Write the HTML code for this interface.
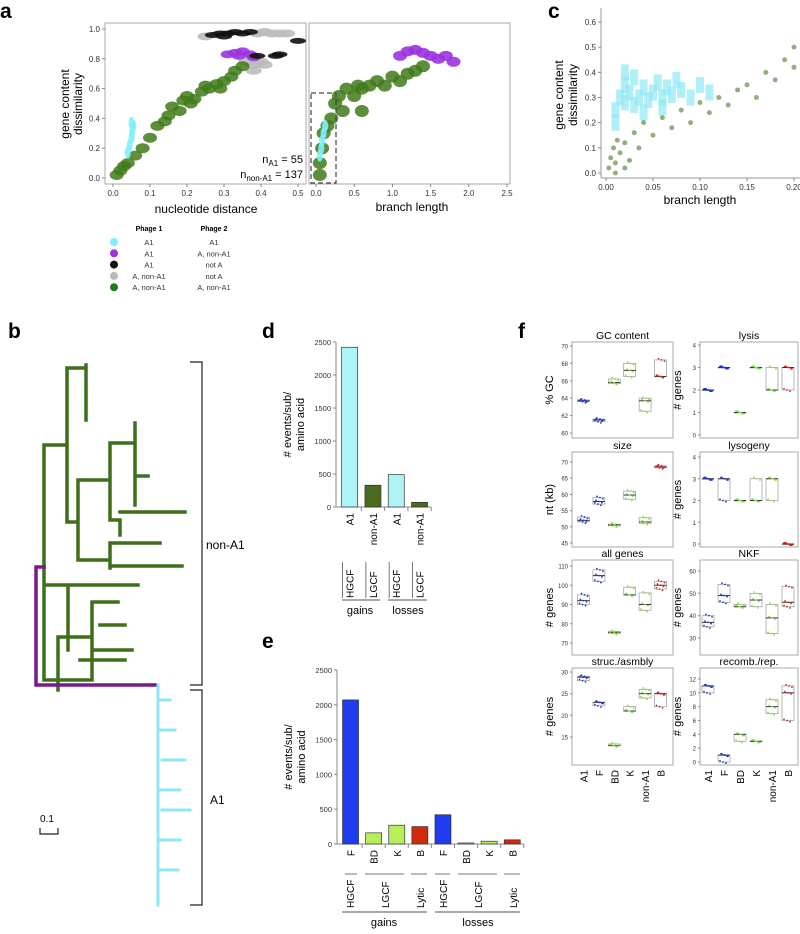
<!DOCTYPE html>
<html><head><meta charset="utf-8"><style>
body{margin:0;background:#fff}
svg{display:block;font-family:"Liberation Sans",sans-serif}
</style></head><body>
<svg id="fig" width="800" height="934" viewBox="0 0 800 934" xmlns="http://www.w3.org/2000/svg">
<g font-weight="bold" font-size="21">
<text x="0" y="18">a</text><text x="548" y="18">c</text><text x="8" y="338">b</text>
<text x="262" y="338">d</text><text x="262" y="648">e</text><text x="518" y="338">f</text>
</g>
</svg>
<script>
// ---------- data ----------
const aLeftGreen=[[0.01,0.02],[0.02,0.05],[0.03,0.08],[0.04,0.1],[0.06,0.15],[0.08,0.2],[0.1,0.27],[0.12,0.35],[0.15,0.42],[0.16,0.48],[0.19,0.52],[0.2,0.55],[0.22,0.53],[0.24,0.58],[0.26,0.6],[0.28,0.63],[0.3,0.65],[0.32,0.68],[0.33,0.72],[0.35,0.75],[0.18,0.45],[0.25,0.62],[0.29,0.6],[0.14,0.38],[0.21,0.5]];
const aLeftCyan=[[0.04,0.17],[0.045,0.22],[0.05,0.27],[0.052,0.31],[0.055,0.35],[0.05,0.37]];
const aLeftPurple=[[0.31,0.83],[0.33,0.84],[0.35,0.85],[0.37,0.83],[0.38,0.81],[0.34,0.82]];
const aLeftBlack=[[0.27,0.96],[0.29,0.97],[0.31,0.97],[0.33,0.98],[0.35,0.97],[0.37,0.98],[0.3,0.95],[0.39,0.82],[0.44,0.82],[0.45,0.83],[0.5,0.92]];
const aLeftGray=[[0.39,0.97],[0.41,0.98],[0.43,0.97],[0.45,0.97],[0.47,0.97],[0.25,0.95],[0.36,0.78],[0.38,0.76],[0.4,0.78],[0.38,0.72],[0.41,0.76]];
const aRightGreen=[[0.05,0.02],[0.05,0.1],[0.08,0.2],[0.1,0.3],[0.2,0.4],[0.25,0.5],[0.3,0.55],[0.4,0.6],[0.5,0.55],[0.55,0.62],[0.6,0.45],[0.7,0.62],[0.8,0.65],[0.9,0.62],[1.0,0.68],[1.1,0.65],[1.2,0.7],[1.3,0.72],[1.4,0.75],[0.35,0.45],[0.6,0.6],[0.15,0.35]];
const aRightCyan=[[0.05,0.15],[0.07,0.2],[0.08,0.25],[0.1,0.3],[0.12,0.35]];
const aRightPurple=[[1.1,0.82],[1.2,0.85],[1.3,0.86],[1.4,0.84],[1.5,0.82],[1.6,0.8],[1.7,0.82],[1.8,0.78]];
const cCyan=[[0.01,0.25],[0.015,0.3],[0.02,0.35],[0.02,0.28],[0.025,0.32],[0.03,0.38],[0.03,0.27],[0.035,0.3],[0.04,0.34],[0.045,0.29],[0.05,0.32],[0.055,0.36],[0.06,0.3],[0.065,0.34],[0.07,0.31],[0.075,0.37],[0.08,0.33],[0.09,0.3],[0.1,0.35],[0.11,0.32],[0.02,0.4],[0.04,0.24],[0.01,0.2],[0.06,0.26]];
const cGreen=[[0.003,0.02],[0.005,0.06],[0.008,0.1],[0.01,0.04],[0.012,0.13],[0.015,0.08],[0.02,0.12],[0.025,0.05],[0.03,0.16],[0.035,0.1],[0.04,0.2],[0.05,0.15],[0.06,0.22],[0.07,0.18],[0.08,0.25],[0.09,0.2],[0.1,0.28],[0.11,0.24],[0.12,0.3],[0.13,0.27],[0.14,0.33],[0.15,0.35],[0.16,0.3],[0.17,0.4],[0.18,0.37],[0.19,0.45],[0.2,0.5],[0.2,0.42],[0.01,0.0],[0.02,0.02]];
const dCats=["A1","non-A1","A1","non-A1"];
const dVals=[2420,330,490,70];
const dColors=["#aef4f6","#4a6a1e","#aef4f6","#4a6a1e"];
const eCats=["F","BD","K","B","F","BD","K","B"];
const eVals=[2070,160,270,250,420,15,40,60];
const eColors=["#1f3cf0","#b8ee5a","#b8ee5a","#d02a10","#1f3cf0","#b8ee5a","#b8ee5a","#d02a10"];
const fCats=["A1","F","BD","K","non-A1","B"];
const fCatColors=["#2233dd","#2233dd","#88dd44","#88dd44","#88dd44","#dd2222"];
const fGC=[[63.6,63.7,63.8],[61.3,61.5,61.6],[65.7,65.8,66.2],[66.5,67.2,68],[62.5,63.7,64],[66.5,66.5,68.4]];
const fSize=[[51.5,52,53],[57,57.8,59],[50.3,50.6,50.8],[58.5,59.8,61],[51,51.5,52.8],[68.2,68.5,68.8]];
const fAll=[[90,92,95],[102,105,108],[75,75.5,76],[95,95,99],[87,90,96],[98,100,102]];
const fStruc=[[28,28.8,29],[22.2,23,23],[13,13,13.4],[21,21,22],[24,25,26],[22,25,25]];
const fLysis=[[2,2,2],[3,3,3],[1,1,1],[3,3,3],[2,2,3],[2,3,3]];
const fLyso=[[3,3,3],[2,3,3],[2,2,2],[2,2,3],[2,3,3],[0,0,0]];
const fNKF=[[35,37,40],[46,49,54],[44,44,45],[44,47,50],[32,39,45],[44,46,53]];
const fRec=[[10,11,11],[0,1,1],[3,4,4],[3,3,3],[7,8,9],[6,10,11]];
const gcTicks=[60,62,64,66,68,70], sizeTicks=[45,50,55,60,65,70], allTicks=[70,80,90,100,110], strucTicks=[15,20,25,30];
const lysTicks=[0,1,2,3,4], nkfTicks=[30,40,50,60], recTicks=[0,2,4,6,8,10,12];

// ---------- helpers ----------
const svg=document.getElementById('fig');
const NS="http://www.w3.org/2000/svg";
function mk(tag,attrs,parent,name){const e=document.createElementNS(NS,tag);for(const k in attrs)e.setAttribute(k,attrs[k]);(parent||svg).appendChild(e);


return e;}
function txt(x,y,s,opts,parent,name){const t=mk('text',Object.assign({x:x,y:y},opts||{}),parent,name||'label');t.textContent=s;return t;}
function lin(d0,d1,r0,r1){return v=>r0+(v-d0)/(d1-d0)*(r1-r0);}

// ---------- panel a ----------
function scatterPanel(box,xs,ys,xt,yt,series,name){
  const g=mk('g',{},svg,name);
  mk('rect',{x:box[0],y:box[1],width:box[2]-box[0],height:box[3]-box[1],fill:'none',stroke:'#aaa'},g,'plot-frame');
  xt.forEach(v=>{mk('line',{x1:xs(v),x2:xs(v),y1:box[3],y2:box[3]+3,stroke:'#888'},g,'x-tick');txt(xs(v),box[3]+12,v.toFixed(xt.dec),{'font-size':8,'text-anchor':'middle',fill:'#333'},g,'x-tick-label');});
  if(yt)yt.forEach(v=>{mk('line',{x1:box[0]-3,x2:box[0],y1:ys(v),y2:ys(v),stroke:'#888'},g,'y-tick');txt(box[0]-5,ys(v)+3,v.toFixed(1),{'font-size':8,'text-anchor':'end',fill:'#333'},g,'y-tick-label');});
  series.forEach(s=>s.pts.forEach(p=>mk('ellipse',{cx:xs(p[0]),cy:ys(p[1]),rx:s.rx,ry:s.ry,fill:s.c,opacity:s.o},g,s.n)));
  return g;
}
const axl=[0,0.1,0.2,0.3,0.4,0.5];axl.dec=1;
const axr=[0,0.5,1,1.5,2,2.5];axr.dec=1;
const yA=[0,0.2,0.4,0.6,0.8,1];
const ayS=lin(0,1,178,29);
scatterPanel([105,23,306,184],lin(0,0.5,113,298),ayS,axl,yA,[
 {pts:aLeftGray,c:'#bbb',rx:8,ry:4,o:0.9,n:'point-gray'},
 {pts:aLeftGreen,c:'#3f7a1a',rx:7,ry:5,o:0.85,n:'point-green'},
 {pts:aLeftCyan,c:'#7ff0f8',rx:3,ry:6,o:0.9,n:'point-cyan'},
 {pts:aLeftPurple,c:'#9a33e0',rx:7,ry:4,o:0.9,n:'point-purple'},
 {pts:aLeftBlack,c:'#111',rx:8,ry:3,o:0.9,n:'point-black'}],'panel-a-left');
scatterPanel([309,23,510,184],lin(0,2.5,316,507),ayS,axr,null,[
 {pts:aRightGreen,c:'#3f7a1a',rx:7,ry:6,o:0.85,n:'point-green'},
 {pts:aRightCyan,c:'#7ff0f8',rx:3,ry:6,o:0.9,n:'point-cyan'},
 {pts:aRightPurple,c:'#9a33e0',rx:7,ry:5,o:0.9,n:'point-purple'}],'panel-a-right');
mk('rect',{x:311,y:93,width:25,height:90,fill:'none',stroke:'#444','stroke-dasharray':'5,3','stroke-width':1.2},svg,'zoom-region-box');
txt(303,163,'n',{'font-size':11,'text-anchor':'end'},svg,'n-a1').innerHTML='n<tspan font-size="8" dy="3">A1</tspan><tspan dy="-3"> = 55</tspan>';
txt(303,178,'n',{'font-size':11,'text-anchor':'end'},svg,'n-nona1').innerHTML='n<tspan font-size="8" dy="3">non-A1</tspan><tspan dy="-3"> = 137</tspan>';
txt(206,213,'nucleotide distance',{'font-size':12,'text-anchor':'middle'},svg,'x-axis-title');
txt(412,211,'branch length',{'font-size':12,'text-anchor':'middle'},svg,'x-axis-title');
txt(0,0,'gene content',{'font-size':12,'text-anchor':'middle',transform:'translate(69,104) rotate(-90)'},svg,'y-axis-title');
txt(0,0,'dissimilarity',{'font-size':12,'text-anchor':'middle',transform:'translate(82,104) rotate(-90)'},svg,'y-axis-title');
// legend
const leg=mk('g',{},svg,'legend');
txt(149,231,'Phage 1',{'font-size':7,'font-weight':'bold','text-anchor':'middle'},leg,'legend-header');
txt(214,231,'Phage 2',{'font-size':7,'font-weight':'bold','text-anchor':'middle'},leg,'legend-header');
const legRows=[['#7ff0f8','A1','A1'],['#9a33e0','A1','A, non-A1'],['#111','A1','not A'],['#bbb','A, non-A1','not A'],['#1f7a1a','A, non-A1','A, non-A1']];
legRows.forEach((r,i)=>{const y=242+i*11.3;mk('circle',{cx:114,cy:y,r:4,fill:r[0]},leg,'legend-marker');
txt(149,y+3,r[1],{'font-size':7.5,'text-anchor':'middle',fill:'#333'},leg,'legend-entry');txt(214,y+3,r[2],{'font-size':7.5,'text-anchor':'middle',fill:'#333'},leg,'legend-entry');});

// ---------- panel c ----------
const cx=lin(0,0.2,606,794), cy=lin(0,0.6,173,22);
const cg=mk('g',{},svg,'panel-c');
mk('line',{x1:601,y1:8,x2:601,y2:178,stroke:'#999'},cg,'y-axis');
mk('line',{x1:601,y1:178,x2:800,y2:178,stroke:'#999'},cg,'x-axis');
[0,0.1,0.2,0.3,0.4,0.5,0.6].forEach(v=>{mk('line',{x1:598,x2:601,y1:cy(v),y2:cy(v),stroke:'#888'},cg,'y-tick');txt(596,cy(v)+3,v.toFixed(1),{'font-size':8,'text-anchor':'end',fill:'#333'},cg,'y-tick-label');});
[0,0.05,0.1,0.15,0.2].forEach(v=>{mk('line',{x1:cx(v),x2:cx(v),y1:178,y2:181,stroke:'#888'},cg,'x-tick');txt(cx(v),190,v.toFixed(2),{'font-size':8,'text-anchor':'middle',fill:'#333'},cg,'x-tick-label');});
cCyan.forEach(p=>mk('rect',{x:cx(p[0])-4,y:cy(p[1])-8,width:8,height:16,fill:'#8ee8f4',opacity:0.7},cg,'point-cyan'));
cGreen.forEach(p=>mk('circle',{cx:cx(p[0]),cy:cy(p[1]),r:2.5,fill:'#4a7a2a',opacity:0.6},cg,'point-green'));
txt(700,204,'branch length',{'font-size':12,'text-anchor':'middle'},cg,'x-axis-title');
txt(0,0,'gene content',{'font-size':12,'text-anchor':'middle',transform:'translate(563,95) rotate(-90)'},cg,'y-axis-title');
txt(0,0,'dissimilarity',{'font-size':12,'text-anchor':'middle',transform:'translate(577,95) rotate(-90)'},cg,'y-axis-title');

// ---------- panel b tree ----------
const tg=mk('g',{fill:'none','stroke-width':3.5,'stroke-linecap':'square'},svg,'phylogenetic-tree');
const G='#3f6f1a';
const greenPath="M44,445 V680 M44,445 H67 M67,368 V522 M67,368 H86 M86,365 V420 M67,522 H78 M78,480 V560 M78,480 H110 M110,443 V520 M110,443 H135 M135,423 V505 M135,476 H148 M120,520 V535 M110,520 H120 M120,512 H185 M110,560 H78 M110,543 V568 M110,543 H160 M110,566 H182 M44,585 H68 M68,585 V650 M68,585 H138 M58,637 H92 M92,602 V680 M92,602 H118 M100,625 H125 M92,650 H132 M80,660 H125 M44,680 H90 M58,637 V690";
mk('path',{d:greenPath,stroke:G},tg,'non-a1-clade');
mk('path',{d:"M44,567 H36 V685 H155",stroke:'#7a1a8a'},tg,'root-branch');
mk('path',{d:"M158,685 V905 M158,700 H170 M160,730 H175 M162,760 H185 M160,790 H180 M162,810 H190 M160,840 H180 M160,870 H178",stroke:'#8ee8f4','stroke-width':3},tg,'a1-clade');
const br=mk('g',{stroke:'#222','stroke-width':1.2,fill:'none'},svg,'clade-brackets');
mk('path',{d:"M190,362 H202 V685 H190"},br,'non-a1-bracket');
mk('path',{d:"M190,690 H202 V905 H190"},br,'a1-bracket');
txt(206,549,'non-A1',{'font-size':12},svg,'non-a1-label');
txt(210,804,'A1',{'font-size':12},svg,'a1-label');
mk('path',{d:"M40,828 V834 H58 V828",stroke:'#222','stroke-width':1.2,fill:'none'},svg,'scale-bar');
txt(40,822,'0.1',{'font-size':10},svg,'scale-bar-label');

// ---------- bar panels ----------
function barPanel(name,axisX,y0,yTop,cats,vals,colors,x0,step,bw){
  const g=mk('g',{},svg,name);
  const ys=lin(0,2500,y0,yTop);
  mk('line',{x1:axisX,y1:yTop,x2:axisX,y2:y0,stroke:'#888'},g,'y-axis');
  mk('line',{x1:axisX,y1:y0,x2:x0+step*cats.length,y2:y0,stroke:'#888'},g,'x-axis');
  [0,500,1000,1500,2000,2500].forEach(v=>{mk('line',{x1:axisX-3,x2:axisX,y1:ys(v),y2:ys(v),stroke:'#888'},g,'y-tick');txt(axisX-5,ys(v)+3,v,{'font-size':7.5,'text-anchor':'end',fill:'#333'},g,'y-tick-label');});
  cats.forEach((c,i)=>{const x=x0+i*step+(step-bw)/2;
    mk('rect',{x:x,y:ys(vals[i]),width:bw,height:y0-ys(vals[i]),fill:colors[i],stroke:'#333','stroke-width':0.7},g,'bar-'+c.toLowerCase());
    mk('line',{x1:x0+(i+1)*step,x2:x0+(i+1)*step,y1:y0,y2:y0+4,stroke:'#888'},g,'x-tick');
    txt(0,0,c,{'font-size':10,'text-anchor':'end',transform:`translate(${x0+i*step+step/2+4},${y0+6}) rotate(-90)`},g,'category-label');});
  txt(0,0,'# events/sub/',{'font-size':11,'text-anchor':'middle',transform:`translate(${axisX-45},${(y0+yTop)/2}) rotate(-90)`},g,'y-axis-title');
  txt(0,0,'amino acid',{'font-size':11,'text-anchor':'middle',transform:`translate(${axisX-32},${(y0+yTop)/2}) rotate(-90)`},g,'y-axis-title');
  return g;
}
const dg=barPanel('panel-d',336,507,342,dCats,dVals,dColors,338,23.3,16);
[["HGCF",349.6],["LGCF",372.9],["HGCF",396.2],["LGCF",419.5]].forEach(a=>{txt(0,0,a[0],{'font-size':10,'text-anchor':'start',transform:`translate(${a[1]+4},${598}) rotate(-90)`},dg,'group-label');
mk('line',{x1:a[1]-7,x2:a[1]-7,y1:562,y2:598,stroke:'#555','stroke-width':0.8},dg,'group-separator');});
mk('line',{x1:342,x2:380,y1:600,y2:600,stroke:'#555'},dg,'gains-line');mk('line',{x1:388,x2:427,y1:600,y2:600,stroke:'#555'},dg,'losses-line');
txt(360,614,'gains',{'font-size':11,'text-anchor':'middle'},dg,'gains-label');txt(408,614,'losses',{'font-size':11,'text-anchor':'middle'},dg,'losses-label');

const eg=barPanel('panel-e',337,844,670,eCats,eVals,eColors,339,23.1,16);
[["HGCF",350,345,357],["LGCF",385,365,404],["Lytic",420,411,427],["HGCF",443,435,450],["LGCF",478,458,497],["Lytic",513,504,520]].forEach(a=>{
mk('line',{x1:a[2],x2:a[3],y1:874,y2:874,stroke:'#777'},eg,'group-line');
txt(0,0,a[0],{'font-size':10,'text-anchor':'start',transform:`translate(${a[1]+4},${908}) rotate(-90)`},eg,'group-label');});
mk('line',{x1:342,x2:427,y1:912,y2:912,stroke:'#555'},eg,'gains-line');mk('line',{x1:435,x2:520,y1:912,y2:912,stroke:'#555'},eg,'losses-line');
txt(384,926,'gains',{'font-size':11,'text-anchor':'middle'},eg,'gains-label');txt(478,926,'losses',{'font-size':11,'text-anchor':'middle'},eg,'losses-label');

// ---------- panel f ----------
function boxPlot(name,title,ylab,box,ticks,v0,y0,v1,y1,data,c0,step,showCats){
  const g=mk('g',{},svg,name);
  const ys=lin(v0,v1,y0,y1);
  mk('rect',{x:box[0],y:box[1],width:box[2]-box[0],height:box[3]-box[1],fill:'none',stroke:'#aaa'},g,'plot-frame');
  txt((box[0]+box[2])/2,box[1]-3,title,{'font-size':10.5,'text-anchor':'middle'},g,'subplot-title');
  txt(0,0,ylab,{'font-size':11,'text-anchor':'middle',transform:`translate(${box[0]-19},${(box[1]+box[3])/2}) rotate(-90)`},g,'y-axis-title');
  ticks.forEach(v=>{mk('line',{x1:box[0]-2,x2:box[0],y1:ys(v),y2:ys(v),stroke:'#888'},g,'y-tick');txt(box[0]-4,ys(v)+2.5,v,{'font-size':6,'text-anchor':'end',fill:'#333'},g,'y-tick-label');});
  data.forEach((d,i)=>{const x=c0+i*step;
    mk('rect',{x:x-6,y:ys(d[2]),width:12,height:Math.max(0.5,ys(d[0])-ys(d[2])),fill:'none',stroke:'#999','stroke-width':0.7},g,'box-'+fCats[i].toLowerCase());
    mk('line',{x1:x-6,x2:x+6,y1:ys(d[1]),y2:ys(d[1]),stroke:'#333','stroke-width':1},g,'median');
    d.forEach((v,j)=>[-3,0,3].forEach(o=>mk('circle',{cx:x+o+j-1,cy:ys(v)+o*0.4,r:0.9,fill:fCatColors[i]},g,'point')));
    if(showCats)txt(0,0,fCats[i],{'font-size':10,'text-anchor':'end',transform:`translate(${x+4},${box[3]+5}) rotate(-90)`},g,'category-label');});
}
const L0=583.5,LS=15.4,R0=708,RS=16;
boxPlot('gc-content','GC content','% GC',[572,342,673,438],gcTicks,60,433,70,346,fGC,L0,LS,false);
boxPlot('size','size','nt (kb)',[572,452,673,547],sizeTicks,45,543,70,462,fSize,L0,LS,false);
boxPlot('all-genes','all genes','# genes',[572,560,673,655],allTicks,70,643,110,566,fAll,L0,LS,false);
boxPlot('struc-asmbly','struc./asmbly','# genes',[572,668,673,765],strucTicks,15,737,30,672,fStruc,L0,LS,true);
boxPlot('lysis','lysis','# genes',[700,342,798,438],lysTicks,0,435,4,345,fLysis,R0,RS,false);
boxPlot('lysogeny','lysogeny','# genes',[700,452,798,547],lysTicks,0,544,4,457,fLyso,R0,RS,false);
boxPlot('nkf','NKF','# genes',[700,560,798,655],nkfTicks,30,638,60,571,fNKF,R0,RS,false);
boxPlot('recomb-rep','recomb./rep.','# genes',[700,668,798,765],recTicks,0,762,12,679,fRec,R0,RS,true);
</script>
</body></html>
